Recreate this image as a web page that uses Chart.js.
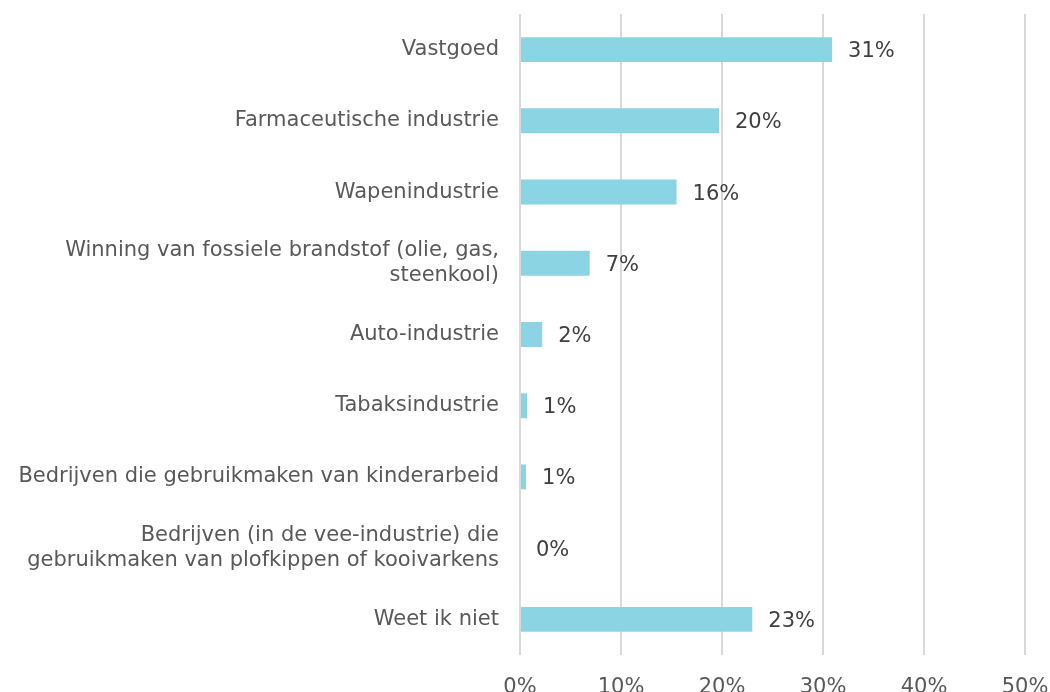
<!DOCTYPE html>
<html>
<head>
<meta charset="utf-8">
<script src="https://cdn.jsdelivr.net/npm/chart.js@4"></script>
<style>
    html, body { margin: 0; padding: 0; background: #fff; overflow: hidden; }
    #wrap { position: relative; width: 1050px; height: 692px; }
</style>
</head>
<body>
<div id="wrap"><canvas id="chart"></canvas></div>
<script>
// Categories (multi-line ones wrapped as in the original)
const categories = [
    "Vastgoed",
    "Farmaceutische industrie",
    "Wapenindustrie",
    ["Winning van fossiele brandstof (olie, gas,", "steenkool)"],
    "Auto-industrie",
    "Tabaksindustrie",
    "Bedrijven die gebruikmaken van kinderarbeid",
    ["Bedrijven (in de vee-industrie) die", "gebruikmaken van plofkippen of kooivarkens"],
    "Weet ik niet"
];
// Share in percent
const shares = [30.9, 19.7, 15.5, 6.9, 2.2, 0.7, 0.6, 0, 23.0];
const xTicks = [0, 10, 20, 30, 40, 50];

const font = "'DejaVu Sans', Verdana, sans-serif";
const fontSize = 21;

// Draws the percentage next to each bar end
const valueLabels = {
    id: "valueLabels",
    afterDatasetsDraw(chart) {
        const ctx = chart.ctx;
        const meta = chart.getDatasetMeta(0);
        ctx.save();
        ctx.font = `${fontSize}px ${font}`;
        ctx.fillStyle = "#404040";
        ctx.textAlign = "left";
        ctx.textBaseline = "middle";
        meta.data.forEach((bar, i) => {
            ctx.fillText(Math.round(shares[i]) + "%", bar.x + 16, bar.y + 2);
        });
        ctx.restore();
    }
};

new Chart(document.getElementById("chart"), {
    type: "bar",
    data: {
        labels: categories,
        datasets: [{
            data: shares,
            backgroundColor: "#8AD4E4",
            borderWidth: 0,
            barPercentage: 0.35,
            categoryPercentage: 1
        }]
    },
    options: {
        indexAxis: "y",
        responsive: true,
        maintainAspectRatio: false,
        animation: false,
        layout: { padding: { top: 14, left: 0, right: 0, bottom: 0 } },
        plugins: {
            legend: { display: false },
            tooltip: { enabled: false }
        },
        scales: {
            x: {
                min: 0,
                max: 50,
                afterBuildTicks: (s) => { s.ticks = xTicks.map(v => ({ value: v })); },
                afterFit: (s) => {
                    s.height = 37;
                    s.paddingLeft = 0;
                    s.paddingRight = 25;
                },
                grid: { color: "#D9D9D9", lineWidth: 2, drawTicks: false },
                border: { display: false },
                ticks: {
                    color: "#595959",
                    font: { family: font, size: fontSize },
                    padding: 20,
                    maxRotation: 0,
                    callback: (v) => v + "%"
                }
            },
            y: {
                afterFit: (s) => {
                    s.width = 520;
                    s.paddingTop = 0;
                    s.paddingBottom = 0;
                },
                grid: { display: false, drawTicks: false },
                border: { display: false },
                ticks: {
                    color: "#595959",
                    font: { family: font, size: fontSize, lineHeight: 1.2 },
                    padding: 21
                }
            }
        }
    },
    plugins: [valueLabels]
});
</script>
</body>
</html>
